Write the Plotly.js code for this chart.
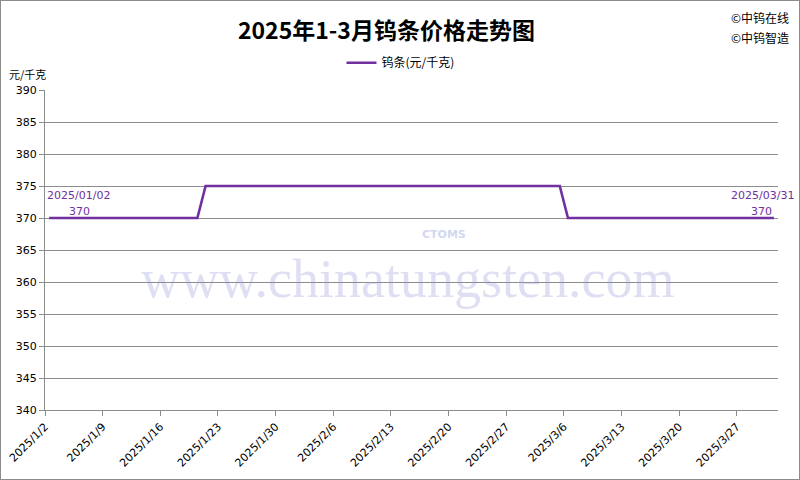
<!DOCTYPE html>
<html><head><meta charset="utf-8">
<script src="https://cdn.plot.ly/plotly-3.0.1.min.js"></script>
<style>html,body{margin:0;padding:0;background:#fff}#c{width:798px;height:478px;border:1px solid #8c8c8c}</style>
</head><body><div id="c"></div>
<script>
const dates = ['2025-01-02','2025-01-20','2025-01-21','2025-03-05','2025-03-06','2025-03-31'];
const prices = [370,370,375,375,370,370];
const seriesName = '钨条(元/千克)';
const titleText = '2025年1-3月钨条价格走势图';
const yUnit = '元/千克';
const yTicks = [340,345,350,355,360,365,370,375,380,385,390];

// points sit in the middle of their day, as in the source chart
const xs = dates.map(d => d + ' 12:00');
const purple = '#7030A0';
const cjk = '"Noto Sans CJK SC", "DejaVu Sans", sans-serif';

const trace = {
  x: xs, y: prices, type: 'scatter', mode: 'lines', name: seriesName,
  line: {color: purple, width: 2.6}
};

const layout = {
  width: 798, height: 478,
  margin: {l: 44, r: 21, t: 89, b: 69},
  paper_bgcolor: '#fff', plot_bgcolor: '#fff',
  font: {family: cjk, size: 11, color: '#000'},
  title: {text: titleText, x: 0.483, xanchor: 'center', y: 0.938, yanchor: 'middle',
          font: {family: cjk, size: 23, color: '#000', weight: 'bold'}},
  showlegend: true,
  legend: {orientation: 'h', x: 0.485, xanchor: 'center', y: 1.085, yanchor: 'middle',
           font: {family: cjk, size: 12}, bgcolor: 'rgba(0,0,0,0)'},
  xaxis: {
    type: 'date', range: ['2025-01-02', '2025-04-01'],
    tick0: '2025-01-02', dtick: 7*86400000, tickformat: '%Y/%-m/%-d',
    tickangle: -45, showgrid: false, showline: true, linecolor: '#8c8c8c', linewidth: 1,
    ticks: 'outside', ticklen: 5, tickcolor: '#8c8c8c',
    tickfont: {family: '"DejaVu Sans", sans-serif', size: 11}, zeroline: false
  },
  yaxis: {
    range: [340, 390], tickvals: yTicks, showgrid: true, gridcolor: '#8c8c8c', gridwidth: 1,
    showline: true, linecolor: '#8c8c8c', ticks: 'outside', ticklen: 5, tickcolor: '#8c8c8c',
    tickfont: {family: '"DejaVu Sans", sans-serif', size: 11}, zeroline: false
  },
  annotations: [
    {text: 'www.chinatungsten.com', xref: 'paper', yref: 'paper', x: 0.495, y: 0.41,
     showarrow: false, font: {family: '"Liberation Serif", serif', size: 54, color: 'rgba(150,150,215,0.3)'}},
    {text: 'CTOMS', xref: 'paper', yref: 'paper', x: 0.545, y: 0.55, showarrow: false,
     font: {family: '"DejaVu Sans", sans-serif', size: 11, color: 'rgba(120,140,210,0.35)', weight: 'bold'}},
    {text: yUnit, xref: 'paper', yref: 'paper', x: -0.052, xanchor: 'left', y: 1.05, yanchor: 'middle',
     showarrow: false, font: {family: cjk, size: 11}},
    {text: '©中钨在线', xref: 'paper', yref: 'paper', x: 1.018, xanchor: 'right', y: 1.225, yanchor: 'middle',
     showarrow: false, font: {family: cjk, size: 12}},
    {text: '©中钨智造', xref: 'paper', yref: 'paper', x: 1.018, xanchor: 'right', y: 1.163, yanchor: 'middle',
     showarrow: false, font: {family: cjk, size: 12}},
    {text: '2025/01/02', x: xs[0], y: prices[0], xanchor: 'left', yanchor: 'middle', xshift: -4, yshift: 23,
     showarrow: false, font: {family: '"DejaVu Sans", sans-serif', size: 11, color: purple}},
    {text: String(prices[0]), x: xs[0], y: prices[0], xanchor: 'left', yanchor: 'middle', xshift: 18, yshift: 7,
     showarrow: false, font: {family: '"DejaVu Sans", sans-serif', size: 11, color: purple}},
    {text: '2025/03/31', x: xs[xs.length-1], y: prices[prices.length-1], xanchor: 'right', yanchor: 'middle', xshift: 22, yshift: 23,
     showarrow: false, font: {family: '"DejaVu Sans", sans-serif', size: 11, color: purple}},
    {text: String(prices[prices.length-1]), x: xs[xs.length-1], y: prices[prices.length-1], xanchor: 'right', yanchor: 'middle', xshift: 0, yshift: 7,
     showarrow: false, font: {family: '"DejaVu Sans", sans-serif', size: 11, color: purple}}
  ]
};

Plotly.newPlot('c', [trace], layout, {displayModeBar: false, staticPlot: true});
</script></body></html>
